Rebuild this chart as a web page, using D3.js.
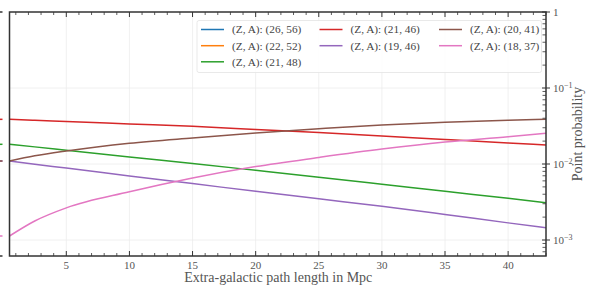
<!DOCTYPE html>
<html><head><meta charset="utf-8">
<script src="https://cdn.jsdelivr.net/npm/d3@7"></script>
<style>body{margin:0;background:#fff}svg{display:block}text{font-family:"Liberation Serif","DejaVu Serif",serif}</style>
</head><body><svg id="c" width="592" height="293"></svg>
<script>
// x grid in Mpc
const pathLength = [0.5, 2.5, 5, 10, 15, 20, 25, 30, 35, 40, 43];
const seriesLabels = ["(Z, A): (26, 56)", "(Z, A): (22, 52)", "(Z, A): (21, 48)", "(Z, A): (21, 46)", "(Z, A): (19, 46)", "(Z, A): (20, 41)", "(Z, A): (18, 37)"];
const seriesColors = ["#1f77b4", "#ff7f0e", "#2ca02c", "#d62728", "#9467bd", "#8c564b", "#e377c2"];
// probabilities (0 = not drawn on log scale)
const p26_56 = [0, 0, 0, 0, 0, 0, 0, 0, 0, 0, 0];
const p22_52 = [0, 0, 0, 0, 0, 0, 0, 0, 0, 0, 0];
const p21_48 = [0.01816, 0.0168, 0.01515, 0.01236, 0.01015, 0.00826, 0.00671, 0.00542, 0.00437, 0.00353, 0.00310];
const p21_46 = [0.0387, 0.0375, 0.0362, 0.0336, 0.0313, 0.0285, 0.0259, 0.0234, 0.0210, 0.0189, 0.0178];
const p19_46 = [0.01095, 0.0099, 0.00886, 0.00695, 0.00552, 0.00437, 0.00348, 0.00278, 0.00217, 0.00168, 0.00145];
const p20_41 = [0.01095, 0.0128, 0.01483, 0.01873, 0.02205, 0.02558, 0.02905, 0.03260, 0.03538, 0.03771, 0.0387];
const p18_37 = [0.001129, 0.00178, 0.00265, 0.00431, 0.00655, 0.00925, 0.01218, 0.01571, 0.01942, 0.02280, 0.02534];
const seriesValues = [p26_56, p22_52, p21_48, p21_46, p19_46, p20_41, p18_37];
const xTicks = [5, 10, 15, 20, 25, 30, 35, 40];
const yTicks = [1e-3, 1e-2, 1e-1, 1];
const yTickLabels = [["10", "−3"], ["10", "−2"], ["10", "−1"], ["1", ""]];
const xTitle = "Extra-galactic path length in Mpc";
const yTitle = "Point probability";

const svg = d3.select("#c");
const L = 9.5, R = 546, T = 12, B = 256;
const x = d3.scaleLinear().domain([0.5, 43]).range([L, R]);
const y = d3.scaleLog().domain([10 ** (-3 - 16 / 76), 1]).range([B, T]);
const ink = "#333", txt = "#555";

// grid
const g = svg.append("g");
g.selectAll(".gx").data(xTicks).join("line").attr("x1", d => x(d)).attr("x2", d => x(d)).attr("y1", T).attr("y2", B).attr("stroke", "#ececec").attr("stroke-width", 0.8);
g.selectAll(".gy").data(yTicks.slice(0, 3)).join("line").attr("y1", d => y(d)).attr("y2", d => y(d)).attr("x1", L).attr("x2", R).attr("stroke", "#ececec").attr("stroke-width", 0.8);

// lines
svg.append("clipPath").attr("id", "clp").append("rect").attr("x", L).attr("y", T).attr("width", R - L).attr("height", B - T);
const line = d3.line().defined(d => d[1] > 0).x(d => x(d[0])).y(d => y(d[1])).curve(d3.curveMonotoneX);
const lg = svg.append("g").attr("clip-path", "url(#clp)");
seriesValues.forEach((vals, i) => {
  const pts = pathLength.map((v, j) => [v, vals[j]]);
  lg.append("path").attr("d", line(pts)).attr("fill", "none").attr("stroke", seriesColors[i]).attr("stroke-width", 1.5);
});
// left stubs
seriesValues.forEach((vals, i) => {
  if (vals[0] > 0) svg.append("line").attr("x1", 0).attr("x2", 2.5).attr("y1", y(vals[0])).attr("y2", y(vals[0])).attr("stroke", seriesColors[i]).attr("stroke-width", 1.5);
});
[T, B].forEach(v => svg.append("line").attr("x1", 0).attr("x2", 2.5).attr("y1", v).attr("y2", v).attr("stroke", ink).attr("stroke-width", 1.5));

// x axis ticks (bottom & top, inward)
const xMinor = d3.range(1, 44).filter(v => v % 5 !== 0);
[[B, -1], [T, 1]].forEach(([yy, dir]) => {
  svg.selectAll(null).data(xTicks).join("line").attr("x1", d => x(d)).attr("x2", d => x(d)).attr("y1", yy).attr("y2", yy + dir * 5).attr("stroke", ink).attr("stroke-width", 1);
  svg.selectAll(null).data(xMinor).join("line").attr("x1", d => x(d)).attr("x2", d => x(d)).attr("y1", yy).attr("y2", yy + dir * 3).attr("stroke", ink).attr("stroke-width", 0.8);
});
svg.selectAll(null).data(xTicks).join("text").attr("x", d => x(d)).attr("y", B + 12.5).attr("text-anchor", "middle").attr("font-size", 11).attr("fill", txt).text(d => d);

// y axis right
const yMinor = [];
[-4, -3, -2, -1].forEach(e => { for (let k = 2; k <= 9; k++) { const v = k * 10 ** e; if (v >= y.domain()[0] && v <= 1) yMinor.push(v); } });
svg.selectAll(null).data(yTicks).join("line").attr("x1", R - 4).attr("x2", R + 4).attr("y1", d => y(d)).attr("y2", d => y(d)).attr("stroke", ink).attr("stroke-width", 1);
svg.selectAll(null).data(yMinor).join("line").attr("x1", R - 3.5).attr("x2", R).attr("y1", d => y(d)).attr("y2", d => y(d)).attr("stroke", ink).attr("stroke-width", 0.8);
const yl = svg.selectAll(null).data(yTicks).join("text").attr("x", R + 7).attr("y", d => y(d) + 4).attr("font-size", 11).attr("fill", txt);
yl.append("tspan").text((d, i) => yTickLabels[i][0]);
yl.append("tspan").attr("dy", -4.5).attr("font-size", 8).text((d, i) => yTickLabels[i][1]);

// spines
svg.append("rect").attr("x", L).attr("y", T).attr("width", R - L).attr("height", B - T).attr("fill", "none").attr("stroke", ink).attr("stroke-width", 1.5);

// titles
svg.append("text").attr("x", (L + R) / 2 + 0.5).attr("y", B + 25.5).attr("text-anchor", "middle").attr("font-size", 14).attr("fill", txt).text(xTitle);
svg.append("text").attr("transform", `translate(${R + 36},${(T + B) / 2}) rotate(-90)`).attr("text-anchor", "middle").attr("font-size", 14).attr("fill", txt).text(yTitle);

// legend
const leg = svg.append("g");
leg.append("rect").attr("x", 197).attr("y", 20.5).attr("width", 344.5).attr("height", 52).attr("rx", 2).attr("fill", "#fff").attr("fill-opacity", 0.85).attr("stroke", "#e3e3e3").attr("stroke-width", 0.8);
const colX = [201, 319.5, 439], rowY = [29.5, 45.7, 61.8];
const order = [[0, 0], [0, 1], [0, 2], [1, 0], [1, 1], [2, 0], [2, 1]];
seriesLabels.forEach((lab, i) => {
  const [c, r] = order[i];
  leg.append("line").attr("x1", colX[c]).attr("x2", colX[c] + 23).attr("y1", rowY[r]).attr("y2", rowY[r]).attr("stroke", seriesColors[i]).attr("stroke-width", 1.5);
  leg.append("text").attr("x", colX[c] + 31).attr("y", rowY[r] + 3.9).attr("font-size", 11.3).attr("fill", "#444").text(lab);
});
</script></body></html>
